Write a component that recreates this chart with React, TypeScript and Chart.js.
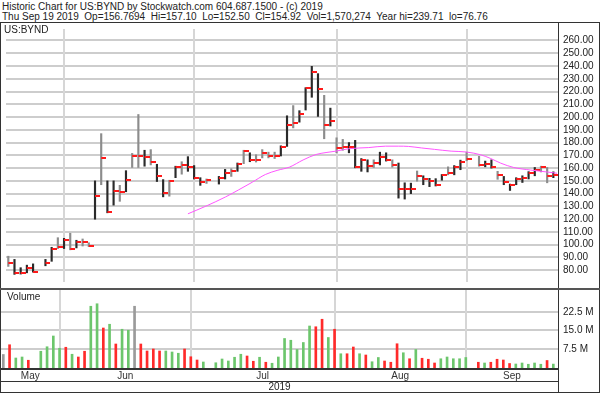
import React, { useEffect, useRef } from 'react';
import { Chart, registerables } from 'chart.js';

Chart.register(...registerables);

// One slot per weekday, starting Mon 20 May 2019 (null = market holiday)
const highs = [91, 88.5, 82, 84, 85, null, 88.5, 98, 105.5, 105, 109, 103.5, 104.5, 101.5, 150, 187, 150, 150, 146.5, 158, 171.5, 202, 174, 174.5, 163, 151, 150.5, 161.5, 165, 169, 162, 152.5, 151.5, null, 153.5, 159, 159.5, 164, 174, 172, 170.5, 174.5, 172.5, 172.5, 177.5, 201, 209, 205, 223, 239.71, 234, 217, 207, 183.75, 182.5, 180, 181.75, 167.5, 166.5, 166.5, 172.5, 172, 166.5, 164, 148.5, 148.25, 157.75, 154, 152, 151.75, 155, 161, 162, 166.25, 172.5, null, 169.25, 165.5, 166.5, 157.5, 153.5, 147.5, 152.5, 154, 157.25, 160.5, 161.5, 160.5, 157.1];
const lows = [83, 76.76, 77, 78, 78.5, null, 83.5, 87, 97, 97, 96, 97.5, 99, 98.5, 120, 147, 125, 131, 134, 141.5, 160.5, 160.5, 161.5, 162.5, 149.5, 137.5, 138, 152.5, 155.25, 157.5, 151.5, 146.5, 148, null, 147.5, 151.5, 153.5, 157.5, 163.5, 165, 164.75, 168, 168, 167.5, 169.5, 177, 191.5, 196, 205.5, 215.5, 200.5, 183, 193, 172, 174, 172, 160.25, 157.5, 157, 160.5, 162.5, 165.5, 160.75, 136.5, 135.75, 140, 149.75, 147, 145.5, 146, 150.5, 154.75, 154.75, 158.75, 165.75, null, 161.5, 161, 160, 151.25, 147, 142.5, 147, 148.75, 151.5, 154, 157, 148.5, 152.5];
const closes = [85.5, 77.5, 78, 82, 79, null, 85.5, 97, 98, 104, 96.5, 102.5, 102, 99, 138.5, 168, 125.5, 142, 141.5, 151, 169.5, 169.5, 169, 165, 153.5, 140.5, 150, 160.5, 162.5, 160.5, 152, 149, 151, null, 152, 156.5, 157.5, 163, 173.5, 166.5, 166, 172, 169.25, 169.5, 176.5, 193.5, 195.5, 202.5, 222.5, 235, 222, 194, 197, 175.75, 176.75, 176.5, 160.5, 166.75, 162, 164, 168.75, 166.5, 162.5, 143.5, 144, 143.75, 154, 151.25, 150, 146.5, 154.75, 156.5, 160.5, 165, 167.5, null, 162.75, 163, 160.5, 154.25, 149.25, 146.75, 151.25, 152.5, 156, 158.75, 160.75, 153.5, 154.92];
const volumesM = [5.4, 9.3, 4.0, 4.4, 3.1, null, 6.7, 8.5, 12.8, 7.9, 8.3, 5.5, 4.4, 6.7, 24.7, 25.7, 16.0, 17.5, 9.6, 15.5, 15.1, 24.7, 9.6, 6.8, 7.6, 6.8, 6.8, 6.4, 5.9, 7.6, 4.5, 3.2, 2.4, null, 2.1, 3.6, 2.8, 4.3, 5.5, 4.8, 2.7, 4.3, 2.3, 1.9, 4.4, 11.8, 11.1, 7.4, 10.2, 16.8, 16.5, 19.5, 12.2, 15.5, 5.7, 5.7, 8.4, 5.7, 5.2, 2.5, 4.2, 2.8, 2.3, 9.7, 6.1, 3.7, 7.4, 3.9, 3.5, 2.0, 3.7, 4.4, 3.7, 3.7, 4.2, null, 2.3, 2.0, 2.3, 3.5, 3.2, 1.8, 1.6, 2.0, 1.5, 2.0, 1.5, 3.0, 1.57];
// 1 = dark stem, 0 = light stem
const darkStem = [0, 1, 1, 1, 1, null, 1, 1, 0, 1, 0, 1, 0, 0, 1, 0, 1, 1, 0, 1, 0, 0, 1, 0, 1, 1, 0, 1, 0, 1, 1, 1, 0, null, 1, 1, 0, 1, 0, 1, 0, 0, 0, 0, 1, 1, 0, 1, 1, 1, 1, 0, 1, 0, 0, 1, 1, 1, 1, 0, 1, 1, 0, 1, 1, 1, 0, 1, 1, 1, 1, 0, 1, 1, 0, null, 0, 1, 1, 0, 1, 1, 1, 1, 1, 1, 0, 0, 1];
// moving average
const maSlots = [29, 31.9, 35.1, 37.2, 39.4, 41.5, 43.4, 45.4, 47.6, 49.7, 51.3, 52.9, 55.0, 58.2, 60.9, 63, 64.6, 66.7, 68.8, 71.5, 74, 76.3, 77.9, 79.5, 81.6, 84.3, 86.9, 88.6];
const maValues = [124.2, 130.2, 137.5, 143, 149, 155, 158.2, 160.8, 166.4, 170.7, 172.2, 173.3, 175.2, 176.1, 177.2, 177.2, 177, 175.8, 174.7, 173.3, 172.6, 170.4, 167.5, 163.9, 160.5, 158.5, 157, 156];

const priceTicks = [80, 90, 100, 110, 120, 130, 140, 150, 160, 170, 180, 190, 200, 210, 220, 230, 240, 250, 260];
const volumeTicks = [7.5, 15, 22.5];
const monthNames = ['May', 'Jun', 'Jul', 'Aug', 'Sep'];
const monthStartSlots = [9, 30, 53, 74];

const X_MIN = -0.37;
const X_MAX = 88.75;
const PRICE_MIN = 70.8;
const PRICE_MAX = 268.97;
const VOL_MIN = 0;
const VOL_MAX = 31.2;
const FONT = '"Liberation Sans", Arial, sans-serif';

const noPadX = (s: any) => {
  s.paddingLeft = 0;
  s.paddingRight = 0;
};
const noPadY = (s: any) => {
  s.paddingTop = 0;
  s.paddingBottom = 0;
};

// horizontal grid lines at the given values of the y scale, painted behind the marks
const hGridPlugin = {
  id: 'hGrid',
  afterDatasetsDraw(chart: any, _args: any, opts: any) {
    const scale = chart.scales.y;
    const area = chart.chartArea;
    const values: number[] = (opts && opts.values) || [];
    if (!scale || !area) return;
    const ctx = chart.ctx;
    ctx.save();
    ctx.globalAlpha = 1;
    ctx.globalCompositeOperation = 'destination-over';
    ctx.fillStyle = '#cdcdcd';
    for (const v of values) {
      const y = Math.round(scale.getPixelForValue(v));
      ctx.fillRect(area.left, y - 1, area.right - area.left, 2);
    }
    ctx.restore();
  },
};

// right axis with the value labels
const labelAxis = (min: number, max: number, values: number[], fmt: (v: number) => string) => ({
  type: 'linear',
  position: 'right',
  min,
  max,
  afterBuildTicks: (s: any) => {
    s.ticks = values.map((v) => ({ value: v }));
  },
  afterFit: (s: any) => {
    s.width = 42;
    noPadY(s);
  },
  ticks: {
    autoSkip: false,
    callback: (v: any) => fmt(Number(v)),
    font: { family: FONT, size: 10 },
    color: '#222',
    padding: 5,
  },
  grid: { display: false, drawTicks: false },
  border: { display: false },
});

export default function App() {
  const priceRef = useRef<HTMLCanvasElement>(null);
  const volRef = useRef<HTMLCanvasElement>(null);

  useEffect(() => {
    const tick = document.createElement('canvas');
    tick.width = 10;
    tick.height = 2;
    const tctx = tick.getContext('2d')!;
    tctx.fillStyle = '#ff1a1a';
    tctx.fillRect(5, 0, 5, 2);

    const slots = highs.map((_, i) => i).filter((i) => highs[i] != null);
    const stems = slots.map((i) => ({ x: i, y: [lows[i], highs[i]] }));
    const stemColors = slots.map((i) => (darkStem[i] ? '#2a2a2a' : '#8c8c8c'));
    const closePts = slots.map((i) => ({ x: i, y: closes[i] }));
    const maPts = maSlots.map((s, k) => ({ x: s, y: maValues[k] }));

    const volPts = slots.map((i) => ({ x: i, y: volumesM[i] }));
    const volColors = slots.map((i, k) => {
      if (k === 0) return '#9a9a9a';
      const prev = closes[slots[k - 1]] as number;
      const cur = closes[i] as number;
      if (cur > prev) return '#6cc66c';
      if (cur < prev) return '#ff2a2a';
      return '#9a9a9a';
    });

    const bounds = [X_MIN, ...monthStartSlots, X_MAX];
    const labelPos = monthNames.map((_, k) => (bounds[k] + bounds[k + 1]) / 2);

    const monthGrid = () => ({
      type: 'linear' as const,
      min: X_MIN,
      max: X_MAX,
      offset: false,
      afterBuildTicks: (s: any) => {
        s.ticks = monthStartSlots.map((v) => ({ value: v }));
      },
      afterFit: (s: any) => {
        s.height = 0;
        noPadX(s);
      },
      ticks: { display: false, autoSkip: false },
      grid: { color: '#d6d6d6', lineWidth: 2, drawTicks: false, offset: false },
      border: { display: false },
    });

    const pc = new Chart(priceRef.current!, {
      type: 'bar',
      data: {
        datasets: [
          {
            type: 'line',
            data: maPts as any,
            borderColor: '#ff55ff',
            borderWidth: 1,
            pointRadius: 0,
            cubicInterpolationMode: 'monotone',
            order: 0,
          } as any,
          {
            type: 'scatter',
            data: closePts as any,
            pointStyle: tick as any,
            pointRadius: 5,
            order: 1,
          } as any,
          {
            type: 'bar',
            data: stems as any,
            backgroundColor: stemColors,
            barThickness: 1.5,
            order: 2,
          } as any,
        ],
      },
      options: {
        animation: false,
        responsive: false,
        maintainAspectRatio: false,
        layout: { padding: { left: 1, right: 0, top: 0, bottom: 0 } },
        plugins: { legend: { display: false }, tooltip: { enabled: false }, hGrid: { values: priceTicks } } as any,
        scales: {
          x: monthGrid(),
          y: labelAxis(PRICE_MIN, PRICE_MAX, priceTicks, (v) => v.toFixed(2)),
        } as any,
      },
      plugins: [hGridPlugin],
    });

    const vc = new Chart(volRef.current!, {
      type: 'bar',
      data: {
        datasets: [
          {
            data: volPts as any,
            backgroundColor: volColors,
            barThickness: 2,
          },
        ],
      },
      options: {
        animation: false,
        responsive: false,
        maintainAspectRatio: false,
        layout: { padding: { left: 1, right: 0, top: 0, bottom: 0 } },
        plugins: { legend: { display: false }, tooltip: { enabled: false }, hGrid: { values: volumeTicks } } as any,
        scales: {
          x: monthGrid(),
          months: {
            type: 'linear',
            position: 'bottom',
            min: X_MIN,
            max: X_MAX,
            offset: false,
            afterBuildTicks: (s: any) => {
              s.ticks = labelPos.map((v) => ({ value: v }));
            },
            afterFit: (s: any) => {
              s.height = 14;
              noPadX(s);
            },
            ticks: {
              autoSkip: false,
              maxRotation: 0,
              callback: (_v: any, i: number) => monthNames[i],
              font: { family: FONT, size: 10 },
              color: '#333',
              padding: 2,
            },
            grid: { display: false, drawTicks: false, offset: false },
            border: { display: false },
          },
          y: labelAxis(VOL_MIN, VOL_MAX, volumeTicks, (v) => v.toFixed(1) + ' M'),
        } as any,
      },
      plugins: [hGridPlugin],
    });

    return () => {
      pc.destroy();
      vc.destroy();
    };
  }, []);

  const ln = (x: number, y: number, w: number, h: number, c = '#333') => (
    <div style={{ position: 'absolute', left: x, top: y, width: w, height: h, background: c }} />
  );

  return (
    <div
      style={{
        position: 'fixed',
        left: 0,
        top: 0,
        width: 600,
        height: 393,
        background: '#fff',
        overflow: 'hidden',
        fontFamily: FONT,
        color: '#222',
      }}
    >
      <div style={{ position: 'absolute', left: 2, top: 1, fontSize: 10, lineHeight: '11px', whiteSpace: 'pre' }}>
        Historic Chart for US:BYND by Stockwatch.com 604.687.1500 - (c) 2019
      </div>
      <div style={{ position: 'absolute', left: 2, top: 11, fontSize: 10, lineHeight: '11px', whiteSpace: 'pre' }}>
        {'Thu Sep 19 2019  Op=156.7694  Hi=157.10  Lo=152.50  Cl=154.92  Vol=1,570,274  Year hi=239.71  lo=76.76'}
      </div>
      <canvas
        ref={priceRef}
        width={600}
        height={265}
        style={{ position: 'absolute', left: 0, top: 23, width: 600, height: 265 }}
      />
      <canvas
        ref={volRef}
        width={600}
        height={92}
        style={{ position: 'absolute', left: 0, top: 290, width: 600, height: 92 }}
      />
      <div style={{ position: 'absolute', left: 4, top: 24, fontSize: 10, lineHeight: '11px' }}>US:BYND</div>
      <div style={{ position: 'absolute', left: 7, top: 291, fontSize: 10, lineHeight: '11px' }}>Volume</div>
      <div style={{ position: 'absolute', left: 0, width: 559, top: 382, fontSize: 10, lineHeight: '10px', textAlign: 'center' }}>
        2019
      </div>
      {ln(0, 22, 600, 1)}
      {ln(0, 22, 1, 371)}
      {ln(558, 22, 1, 371)}
      {ln(599, 22, 1, 371)}
      {ln(0, 288, 600, 2, '#555')}
      {ln(0, 368, 559, 2)}
      {ln(0, 381, 559, 1)}
      {ln(0, 392, 600, 1)}
    </div>
  );
}
